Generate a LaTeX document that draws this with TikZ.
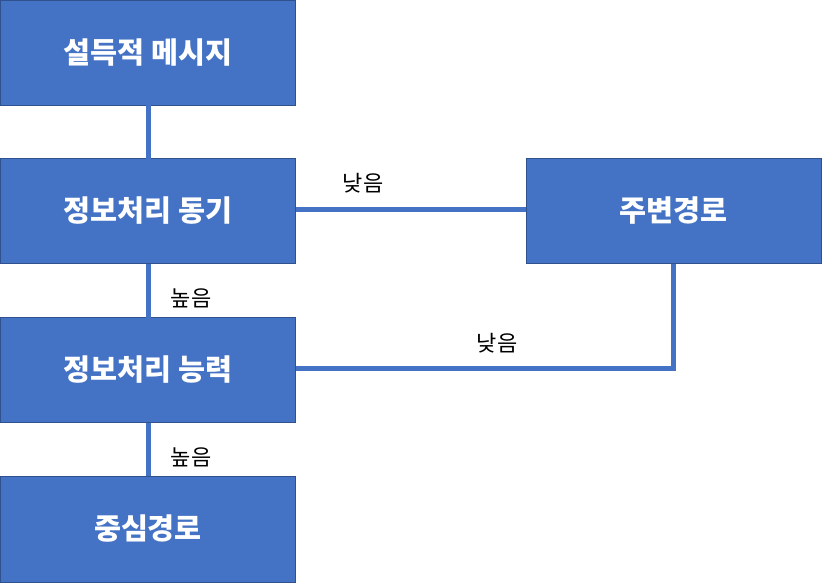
\documentclass[tikz,border=0pt]{standalone}
\usepackage{fontspec}
\setmainfont{Noto Sans CJK KR}
\definecolor{boxfill}{HTML}{4472C4}
\definecolor{boxline}{HTML}{2F528F}
\begin{document}
\begin{tikzpicture}[x=0.75pt,y=-0.75pt,
  blk/.style={draw=boxline,line width=0.75pt,fill=boxfill,text=white,
    font=\fontsize{22pt}{26pt}\selectfont\bfseries,
    minimum width=221.25pt,minimum height=78.75pt,inner sep=0pt,outer sep=0pt},
  conn/.style={draw=boxfill,line width=3.75pt},
  lbl/.style={font=\fontsize{16.5pt}{19pt}\selectfont,text=black,inner sep=0pt}]
\useasboundingbox (0,0) rectangle (822,583);
\fill[white] (0,0) rectangle (822,583);
\node[blk] (b1) at (148,52.5) {설득적 메시지};
\node[blk] (b2) at (148,211) {정보처리 동기};
\node[blk] (b3) at (148,370) {정보처리 능력};
\node[blk,minimum height=79.5pt] (b4) at (148,529) {중심경로};
\node[blk] (r) at (673.5,211) {주변경로};
\draw[conn] (b1.south) -- (b2.north);
\draw[conn] (b2.south) -- (b3.north);
\draw[conn] (b3.south) -- (b4.north);
\draw[conn] ([yshift=1pt]b2.east) -- ([yshift=1pt]r.west);
\draw[conn] ([yshift=1.5pt]b3.east) -- ([yshift=1.5pt]b3.east -| r.south) -- (r.south);
\node[lbl] (l1) at (363,183) {낮음};
\node[lbl] (l2) at (191,298) {높음};
\node[lbl] (l3) at (497,343) {낮음};
\node[lbl] (l4) at (191,457) {높음};
\end{tikzpicture}
\end{document}
